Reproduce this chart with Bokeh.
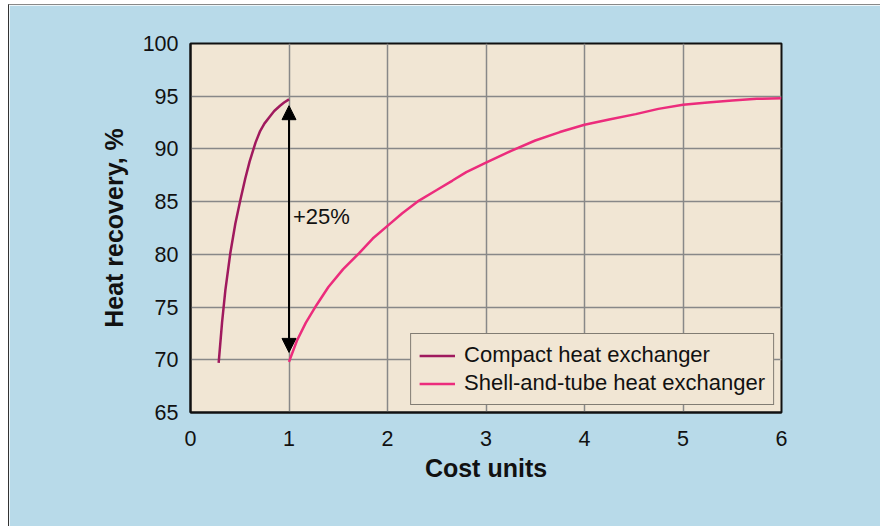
from bokeh.plotting import figure
from bokeh.models import (Range1d, FixedTicker, Legend, LegendItem, Arrow,
                          NormalHead, Label)
from bokeh.embed import file_html
from bokeh.resources import INLINE

# ---- data ----
compact_x = [0.286, 0.320, 0.354, 0.404, 0.455, 0.505, 0.556, 0.60, 0.66,
             0.707, 0.75, 0.808, 0.85, 0.909, 0.95, 1.0]
compact_y = [69.7, 73.5, 76.6, 80.1, 82.9, 85.1, 87.2, 88.8, 90.6,
             91.7, 92.4, 93.1, 93.6, 94.1, 94.4, 94.7]

shell_x = [1.0, 1.08, 1.17, 1.28, 1.40, 1.55, 1.71, 1.85, 2.0, 2.15, 2.32, 2.5,
           2.66, 2.8, 3.0, 3.25, 3.5, 3.75, 4.0, 4.25, 4.52, 4.75, 5.0, 5.25,
           5.5, 5.75, 6.0]
shell_y = [69.8, 71.8, 73.5, 75.2, 76.9, 78.6, 80.1, 81.5, 82.7, 83.9, 85.1, 86.1,
           87.0, 87.8, 88.7, 89.8, 90.8, 91.6, 92.3, 92.8, 93.3, 93.8, 94.2, 94.4,
           94.6, 94.75, 94.8]

x_ticks = [0, 1, 2, 3, 4, 5, 6]
y_ticks = [65, 70, 75, 80, 85, 90, 95, 100]

arrow_x = 1.0
arrow_y_start = 70.7
arrow_y_end = 94.1
annot_text = "+25%"
annot_x = 1.04
annot_y = 83.6

legend_labels = ["Compact heat exchanger", "Shell-and-tube heat exchanger"]
x_label = "Cost units"
y_label = "Heat recovery, %"

# ---- styling ----
BLUE = "#B8DAE9"
BEIGE = "#F1E6D4"
C_COMPACT = "#A01A5E"
C_SHELL = "#EC2C7C"
FONT = "Liberation Sans"

p = figure(frame_width=591, frame_height=369,
           min_border_left=181, min_border_right=99,
           min_border_top=38, min_border_bottom=114,
           x_range=Range1d(0, 6), y_range=Range1d(65, 100),
           output_backend="svg", toolbar_location=None,
           styles={"margin-left": "8px", "margin-top": "4px",
                   "border-left": "1px solid #333333",
                   "border-top": "1px solid #888888"})

p.background_fill_color = BEIGE
p.border_fill_color = BLUE
p.outline_line_color = "#111111"
p.outline_line_width = 2

for ax in (p.xaxis[0], p.yaxis[0]):
    ax.major_tick_line_color = None
    ax.minor_tick_line_color = None
    ax.axis_line_color = "#111111"
    ax.axis_line_width = 2
    ax.major_label_text_font = FONT
    ax.major_label_text_font_size = "21.5px"
    ax.major_label_text_color = "#111111"
    ax.axis_label_text_font = FONT
    ax.axis_label_text_font_size = "25px"
    ax.axis_label_text_font_style = "bold"
    ax.axis_label_text_color = "#111111"

p.xaxis.ticker = FixedTicker(ticks=x_ticks)
p.yaxis.ticker = FixedTicker(ticks=y_ticks)
p.xaxis.axis_label = x_label
p.yaxis.axis_label = y_label
p.xaxis.major_label_standoff = 12
p.yaxis.major_label_standoff = 6
p.xaxis.axis_label_standoff = 5
p.yaxis.axis_label_standoff = 12

p.grid.grid_line_color = "#888888"
p.grid.grid_line_width = 1.5

r1 = p.line(compact_x, compact_y, line_color=C_COMPACT, line_width=2.5)
r2 = p.line(shell_x, shell_y, line_color=C_SHELL, line_width=2.5)

arrow = Arrow(x_start=arrow_x, y_start=arrow_y_start, x_end=arrow_x, y_end=arrow_y_end,
              line_color="black", line_width=2,
              start=NormalHead(size=14, fill_color="black", line_color="black"),
              end=NormalHead(size=14, fill_color="black", line_color="black"))
p.add_layout(arrow)

p.add_layout(Label(x=annot_x, y=annot_y, text=annot_text, text_font=FONT,
                   text_font_size="22px", text_color="#111111",
                   text_baseline="middle", text_align="left"))

legend = Legend(items=[LegendItem(label=legend_labels[0], renderers=[r1]),
                       LegendItem(label=legend_labels[1], renderers=[r2])],
                location="bottom_right")
legend.background_fill_color = BEIGE
legend.background_fill_alpha = 1
legend.border_line_color = "#111111"
legend.border_line_width = 1.5
legend.label_text_font = FONT
legend.label_text_font_size = "22px"
legend.label_text_color = "#111111"
legend.glyph_width = 36
legend.glyph_height = 25
legend.label_height = 25
legend.label_standoff = 9
legend.padding = 8
legend.spacing = 2
legend.margin = 7
p.add_layout(legend)

open("out.html", "w").write(file_html(p, INLINE))
